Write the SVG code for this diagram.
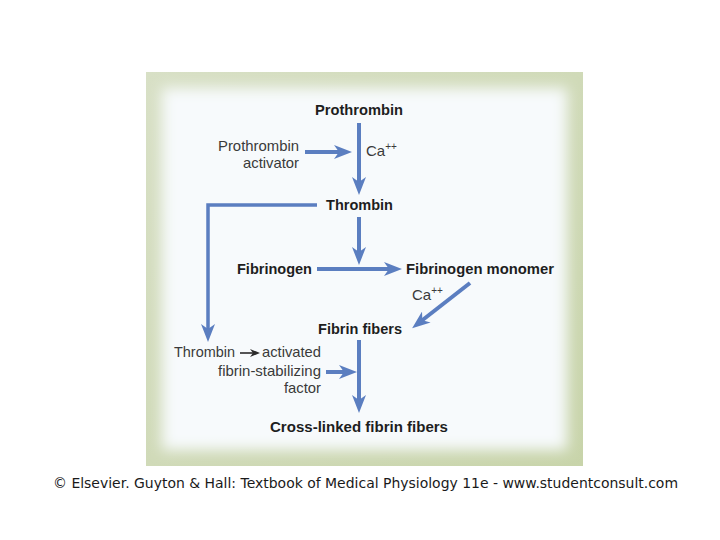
<svg xmlns="http://www.w3.org/2000/svg" width="720" height="540" viewBox="0 0 720 540">
<style>
.b{font-family:"Liberation Sans",Arial,sans-serif;font-weight:bold;font-size:15px;fill:#1e1e1e}
.r{font-family:"Liberation Sans",Arial,sans-serif;font-size:15px;fill:#3a3a3a}
.s{font-size:10px}
.c{fill:none;stroke:#5b7ec0;stroke-width:4}
.t{fill:none;stroke:#5b7ec0;stroke-width:3.5}
.f{font-family:"DejaVu Sans",Verdana,sans-serif;font-size:14px;fill:#1a1a1a}
</style>
<defs>
<marker id="ah" viewBox="0 0 18 14" refX="8" refY="7" markerWidth="18" markerHeight="14" markerUnits="userSpaceOnUse" orient="auto">
<path d="M0,0 L18,7 L0,14 L5,7 z" fill="#5b7ec0"/>
</marker>
<marker id="sm" viewBox="0 0 10 8" refX="4" refY="4" markerWidth="10" markerHeight="8" markerUnits="userSpaceOnUse" orient="auto">
<path d="M0,0 L10,4 L0,8 L3,4 z" fill="#2a2a2a"/>
</marker>
<filter id="blur" x="-10%" y="-10%" width="120%" height="120%"><feGaussianBlur stdDeviation="7"/></filter>
<linearGradient id="fr" x1="0" y1="0" x2="1" y2="1">
<stop offset="0" stop-color="#d8e0c6"/><stop offset="1" stop-color="#c8d4aa"/>
</linearGradient>
</defs>
<rect width="720" height="540" fill="#ffffff"/>
<g id="frame">
<rect x="146" y="72" width="437" height="394" fill="url(#fr)"/>
<rect x="162" y="88" width="405" height="362" fill="#f7fafc" filter="url(#blur)"/>
</g>
<g id="connectors">
<line class="c" x1="359" y1="123" x2="359" y2="185" marker-end="url(#ah)"/>
<line class="c" x1="305" y1="152" x2="342" y2="152" marker-end="url(#ah)"/>
<polyline class="t" points="317,205 208,205 208,332" marker-end="url(#ah)"/>
<line class="c" x1="359" y1="217" x2="359" y2="255" marker-end="url(#ah)"/>
<line class="c" x1="317" y1="269" x2="392" y2="269" marker-end="url(#ah)"/>
<line class="c" x1="470" y1="283" x2="420" y2="322" marker-end="url(#ah)"/>
<line class="c" x1="359" y1="340" x2="359" y2="403" marker-end="url(#ah)"/>
<line class="c" x1="326" y1="372" x2="347" y2="372" marker-end="url(#ah)"/>
<line x1="240" y1="353" x2="254" y2="353" stroke="#2a2a2a" stroke-width="1.6" marker-end="url(#sm)"/>
</g>
<g id="prothrombin"><text class="b" x="315" y="115" textLength="88" lengthAdjust="spacingAndGlyphs">Prothrombin</text></g>
<g id="activator">
<text class="r" x="218" y="150.5" textLength="81" lengthAdjust="spacingAndGlyphs">Prothrombin</text>
<text class="r" x="243" y="167.5" textLength="56" lengthAdjust="spacingAndGlyphs">activator</text>
</g>
<g id="ca1"><text class="r" x="366" y="156">Ca<tspan class="s" dy="-6">++</tspan></text></g>
<g id="thrombin"><text class="b" x="326" y="210" textLength="67" lengthAdjust="spacingAndGlyphs">Thrombin</text></g>
<g id="fibrinogen"><text class="b" x="237" y="274" textLength="75" lengthAdjust="spacingAndGlyphs">Fibrinogen</text></g>
<g id="monomer"><text class="b" x="406" y="274" textLength="148" lengthAdjust="spacingAndGlyphs">Fibrinogen monomer</text></g>
<g id="ca2"><text class="r" x="412" y="300">Ca<tspan class="s" dy="-6">++</tspan></text></g>
<g id="fibrin"><text class="b" x="318" y="334" textLength="84" lengthAdjust="spacingAndGlyphs">Fibrin fibers</text></g>
<g id="factor">
<text class="r" x="174" y="357" textLength="61" lengthAdjust="spacingAndGlyphs">Thrombin</text>
<text class="r" x="262" y="357" textLength="59" lengthAdjust="spacingAndGlyphs">activated</text>
<text class="r" x="218" y="376" textLength="103" lengthAdjust="spacingAndGlyphs">fibrin-stabilizing</text>
<text class="r" x="284" y="393" textLength="37" lengthAdjust="spacingAndGlyphs">factor</text>
</g>
<g id="crosslinked"><text class="b" x="270" y="432" textLength="178" lengthAdjust="spacingAndGlyphs">Cross-linked fibrin fibers</text></g>
<g id="footer"><text class="f" x="53" y="488" textLength="625" lengthAdjust="spacingAndGlyphs">© Elsevier. Guyton &amp; Hall: Textbook of Medical Physiology 11e - www.studentconsult.com</text></g>
</svg>
